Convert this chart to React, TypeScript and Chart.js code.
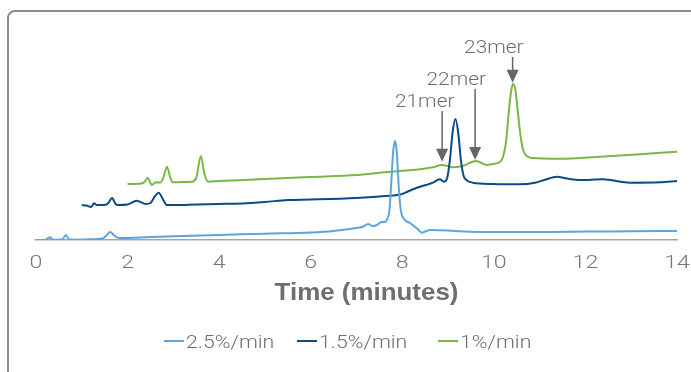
import { useEffect, useRef } from "react";
import { Chart, registerables } from "chart.js";
Chart.register(...registerables);

// ---- data ----
const xTicks = [0, 2, 4, 6, 8, 10, 12, 14];
const xTitle = "Time (minutes)";
const seriesNames = ["2.5%/min", "1.5%/min", "1%/min"];
const seriesColors = ["#5ca5dd", "#0c4a85", "#78b845"];

// 2.5%/min trace (time in minutes, detector response)
const time25 = [0.0, 0.2, 0.27, 0.31, 0.36, 0.45, 0.58, 0.65, 0.72, 0.85, 1.2, 1.45, 1.55, 1.62, 1.7, 1.8, 2.5, 3.0, 4.0, 5.0, 6.0, 6.5, 7.0, 7.15, 7.25, 7.35, 7.45, 7.55, 7.62, 7.68, 7.72, 7.76, 7.8, 7.84, 7.88, 7.92, 7.96, 8.0, 8.08, 8.17, 8.25, 8.31, 8.38, 8.42, 8.5, 8.6, 9.0, 9.33, 10.0, 11.0, 12.0, 13.0, 14.0];
const resp25 = [0, 0.3, 2, 2.8, 0.5, 0.3, 0.8, 5, 0.8, 0.3, 0.8, 1.5, 5, 8, 5, 2, 3, 3.8, 5, 6.3, 7.5, 9, 12, 13.5, 16, 14, 15, 18, 18, 22, 30, 58, 88, 99, 88, 55, 32, 24, 19, 17, 14, 12, 9, 7.3, 8.5, 10, 9.5, 8.5, 8, 8, 8.5, 8.7, 9];

// 1.5%/min trace
const time15 = [1.0, 1.1, 1.2, 1.27, 1.33, 1.5, 1.58, 1.66, 1.74, 1.8, 2.0, 2.2, 2.4, 2.5, 2.6, 2.68, 2.78, 2.86, 3.0, 3.5, 4.0, 4.5, 5.0, 5.5, 6.0, 7.0, 7.5, 8.0, 8.1, 8.25, 8.39, 8.52, 8.67, 8.82, 8.91, 8.98, 9.04, 9.1, 9.16, 9.22, 9.28, 9.34, 9.4, 9.54, 9.98, 10.57, 10.9, 11.1, 11.38, 11.6, 11.88, 12.38, 12.97, 13.63, 14.0];
const resp15 = [35, 34.5, 33, 36.7, 35, 35, 37, 42, 36, 35, 35.5, 39.3, 36, 37, 44, 47.3, 40, 35, 35, 35.5, 36, 36.5, 38, 40, 40.5, 42, 43.5, 46, 48, 51, 53.3, 55, 57.3, 60.7, 58.3, 62, 80, 108, 121, 108, 80, 64, 60, 57.3, 56, 55.7, 57.3, 60, 63.3, 61.5, 60, 60.7, 57.3, 57.7, 59];

// 1%/min trace
const time10 = [2.0, 2.3, 2.37, 2.44, 2.5, 2.53, 2.62, 2.72, 2.78, 2.86, 2.93, 2.98, 3.2, 3.4, 3.5, 3.6, 3.68, 3.76, 4.0, 5.0, 6.0, 7.0, 7.5, 8.0, 8.39, 8.67, 8.87, 9.1, 9.32, 9.61, 9.85, 9.98, 10.13, 10.2, 10.27, 10.33, 10.38, 10.42, 10.47, 10.52, 10.58, 10.64, 10.72, 10.85, 11.44, 12.32, 13.19, 14.0];
const resp10 = [56, 56.5, 58, 62.3, 57, 55, 57.7, 57.5, 62, 73.3, 63, 57.7, 58, 58.3, 62, 84, 66, 58.3, 59, 61, 63, 65, 67.3, 69.3, 70.7, 72.7, 75, 72.7, 74, 79, 75, 76, 78, 83, 100, 130, 150, 156, 150, 130, 105, 90, 84, 82, 81.3, 83.3, 85.7, 88.3];

// peak annotations
const annotLabels = ["21mer", "22mer", "23mer"];
const annotTime = [8.87, 9.59, 10.41];
const annotTipResp = [78.3, 80, 157.3];
const annotTopResp = [129, 151, 183];
const annotTextTime = [8.49, 9.18, 10.0];
const annotTextResp = [132.7, 155, 187.3];

const GRAY = "#6e6e6e";
const LIGHT_FONT = "Roboto, 'Liberation Sans', Arial, sans-serif";
const BOLD_FONT = "'Liberation Sans', Arial, sans-serif";

function drawText(ctx: CanvasRenderingContext2D, text: string, x: number, y: number, font: string, color: string, sx: number, align: CanvasTextAlign) {
  ctx.save();
  ctx.font = font;
  ctx.fillStyle = color;
  ctx.textBaseline = "alphabetic";
  ctx.textAlign = align;
  ctx.translate(x, y);
  ctx.scale(sx, 1);
  ctx.fillText(text, 0, 0);
  ctx.restore();
}

const decorPlugin = {
  id: "decor",
  beforeDraw(chart: any) {
    const ctx = chart.ctx as CanvasRenderingContext2D;
    ctx.save();
    ctx.strokeStyle = "#8d8d8d";
    ctx.lineWidth = 2;
    ctx.beginPath();
    ctx.roundRect(8, 11, 720, 420, 7);
    ctx.stroke();
    ctx.restore();
  },
  afterDraw(chart: any) {
    const ctx = chart.ctx as CanvasRenderingContext2D;
    const xs = chart.scales.x;
    const ys = chart.scales.y;
    const area = chart.chartArea;
    // tick labels
    xTicks.forEach((t) => {
      drawText(ctx, String(t), xs.getPixelForValue(t), area.bottom + 28, `300 19px ${LIGHT_FONT}`, "#777777", 1.22, "center");
    });
    // axis title
    drawText(ctx, xTitle, (area.left + area.right) / 2 + 10, area.bottom + 60, `bold 24px ${BOLD_FONT}`, GRAY, 1.08, "center");
    // legend
    const legendX = [164, 297, 438];
    const legendY = area.bottom + 101;
    seriesNames.forEach((name, i) => {
      ctx.save();
      ctx.strokeStyle = seriesColors[i];
      ctx.lineWidth = 2;
      ctx.beginPath();
      ctx.moveTo(legendX[i], legendY);
      ctx.lineTo(legendX[i] + 20, legendY);
      ctx.stroke();
      ctx.restore();
      drawText(ctx, name, legendX[i] + 22, legendY + 7, `300 19px ${LIGHT_FONT}`, GRAY, 1.12, "left");
    });
    // annotations
    annotLabels.forEach((label, i) => {
      const x = xs.getPixelForValue(annotTime[i]);
      const tip = ys.getPixelForValue(annotTipResp[i]);
      const top = ys.getPixelForValue(annotTopResp[i]);
      const headLen = 13;
      const headHalf = 6;
      ctx.save();
      ctx.strokeStyle = "#666666";
      ctx.fillStyle = "#666666";
      ctx.lineWidth = 1.5;
      ctx.beginPath();
      ctx.moveTo(x, top);
      ctx.lineTo(x, tip - headLen + 1);
      ctx.stroke();
      ctx.beginPath();
      ctx.moveTo(x - headHalf, tip - headLen);
      ctx.lineTo(x + headHalf, tip - headLen);
      ctx.lineTo(x, tip);
      ctx.closePath();
      ctx.fill();
      ctx.restore();
      drawText(ctx, label, xs.getPixelForValue(annotTextTime[i]), ys.getPixelForValue(annotTextResp[i]), `300 19px ${LIGHT_FONT}`, GRAY, 1.1, "center");
    });
  },
};

export default function App() {
  const ref = useRef<HTMLCanvasElement | null>(null);
  useEffect(() => {
    document.body.style.margin = "0";
    const toPts = (ts: number[], vs: number[]) => ts.map((t, i) => ({ x: t, y: vs[i] }));
    const chart = new Chart(ref.current!, {
      type: "line",
      data: {
        datasets: [
          { label: seriesNames[0], data: toPts(time25, resp25), borderColor: seriesColors[0], backgroundColor: seriesColors[0], borderWidth: 2, pointRadius: 0, cubicInterpolationMode: "monotone" },
          { label: seriesNames[1], data: toPts(time15, resp15), borderColor: seriesColors[1], backgroundColor: seriesColors[1], borderWidth: 2, pointRadius: 0, cubicInterpolationMode: "monotone" },
          { label: seriesNames[2], data: toPts(time10, resp10), borderColor: seriesColors[2], backgroundColor: seriesColors[2], borderWidth: 2, pointRadius: 0, cubicInterpolationMode: "monotone" },
        ],
      },
      options: {
        animation: false,
        responsive: false,
        events: [],
        layout: { padding: { left: 36, right: 14, top: 10, bottom: 0 } },
        plugins: { legend: { display: false }, tooltip: { enabled: false } },
        scales: {
          x: {
            type: "linear",
            min: 0,
            max: 14,
            grid: { display: false, drawTicks: false },
            border: { display: true, color: "#a6a6a6", width: 1.5 },
            ticks: { display: false, stepSize: 2 },
            afterFit: (scale: any) => { scale.height = 132; },
          },
          y: { display: false, min: 0, max: 230 },
        },
      },
      plugins: [decorPlugin],
    });
    return () => chart.destroy();
  }, []);
  return (
    <div style={{ width: 691, height: 372 }}>
      <canvas ref={ref} width={691} height={372} style={{ display: "block" }} />
    </div>
  );
}
